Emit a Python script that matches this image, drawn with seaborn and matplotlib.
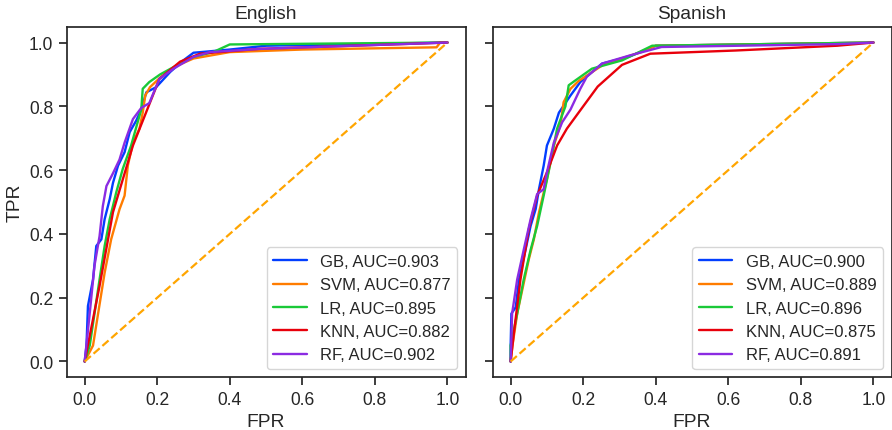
import matplotlib
matplotlib.use('Agg')
import matplotlib.pyplot as plt
import seaborn as sns

# ROC curves
models = ['GB', 'SVM', 'LR', 'KNN', 'RF']

# English
en_fpr = {
    'GB':  [0, 0.005, 0.009, 0.023, 0.032, 0.046, 0.055, 0.069, 0.078, 0.092, 0.11, 0.124, 0.142, 0.156, 0.17, 0.197, 0.236, 0.272, 0.30, 0.40, 0.50, 1.0],
    'SVM': [0, 0.023, 0.037, 0.055, 0.073, 0.096, 0.11, 0.119, 0.133, 0.151, 0.16, 0.167, 0.18, 0.208, 0.25, 0.30, 0.40, 0.60, 0.97, 0.98, 1.0],
    'LR':  [0, 0.014, 0.027, 0.041, 0.055, 0.069, 0.087, 0.105, 0.128, 0.146, 0.156, 0.16, 0.178, 0.208, 0.245, 0.30, 0.354, 0.40, 0.60, 1.0],
    'KNN': [0, 0.041, 0.078, 0.133, 0.206, 0.263, 0.318, 0.48, 1.0],
    'RF':  [0, 0.014, 0.027, 0.041, 0.05, 0.06, 0.078, 0.096, 0.11, 0.133, 0.156, 0.178, 0.206, 0.245, 0.30, 0.345, 0.482, 1.0],
}
en_tpr = {
    'GB':  [0, 0.05, 0.174, 0.257, 0.362, 0.383, 0.446, 0.509, 0.56, 0.614, 0.656, 0.719, 0.755, 0.79, 0.844, 0.86, 0.908, 0.944, 0.968, 0.978, 0.99, 1.0],
    'SVM': [0, 0.05, 0.15, 0.278, 0.383, 0.477, 0.52, 0.614, 0.686, 0.73, 0.78, 0.834, 0.86, 0.89, 0.925, 0.95, 0.97, 0.978, 0.985, 1.0, 1.0],
    'LR':  [0, 0.05, 0.15, 0.257, 0.362, 0.446, 0.53, 0.604, 0.677, 0.75, 0.79, 0.855, 0.876, 0.90, 0.923, 0.955, 0.97, 0.994, 0.996, 1.0],
    'KNN': [0, 0.237, 0.468, 0.677, 0.886, 0.94, 0.965, 0.98, 1.0],
    'RF':  [0, 0.152, 0.30, 0.393, 0.487, 0.55, 0.59, 0.633, 0.686, 0.76, 0.795, 0.81, 0.886, 0.918, 0.955, 0.97, 0.98, 1.0],
}
en_auc = [0.903, 0.877, 0.895, 0.882, 0.902]

# Spanish
es_fpr = {
    'GB':  [0, 0, 0.002, 0.014, 0.023, 0.041, 0.055, 0.069, 0.078, 0.091, 0.10, 0.119, 0.133, 0.165, 0.192, 0.206, 0.252, 0.325, 0.40, 1.0],
    'SVM': [0, 0.005, 0.018, 0.05, 0.064, 0.078, 0.10, 0.119, 0.137, 0.146, 0.165, 0.188, 0.26, 0.36, 0.40, 1.0],
    'LR':  [0, 0, 0.018, 0.036, 0.055, 0.073, 0.091, 0.11, 0.128, 0.151, 0.16, 0.177, 0.224, 0.307, 0.39, 1.0],
    'KNN': [0, 0.009, 0.027, 0.05, 0.073, 0.10, 0.128, 0.155, 0.20, 0.24, 0.307, 0.385, 0.62, 0.9, 1.0],
    'RF':  [0, 0.004, 0.018, 0.036, 0.055, 0.073, 0.091, 0.10, 0.119, 0.142, 0.165, 0.192, 0.21, 0.252, 0.33, 0.416, 0.9, 1.0],
}
es_tpr = {
    'GB':  [0, 0.05, 0.15, 0.17, 0.257, 0.35, 0.425, 0.478, 0.54, 0.614, 0.677, 0.73, 0.78, 0.834, 0.876, 0.89, 0.934, 0.955, 0.99, 1.0],
    'SVM': [0, 0.05, 0.15, 0.32, 0.383, 0.467, 0.572, 0.677, 0.74, 0.813, 0.855, 0.88, 0.934, 0.97, 0.99, 1.0],
    'LR':  [0, 0.05, 0.15, 0.257, 0.35, 0.425, 0.52, 0.624, 0.73, 0.80, 0.866, 0.88, 0.918, 0.944, 0.99, 1.0],
    'KNN': [0, 0.09, 0.257, 0.415, 0.52, 0.593, 0.677, 0.73, 0.80, 0.862, 0.93, 0.965, 0.975, 0.99, 1.0],
    'RF':  [0, 0.15, 0.257, 0.35, 0.446, 0.525, 0.54, 0.593, 0.686, 0.75, 0.79, 0.855, 0.893, 0.934, 0.96, 0.986, 0.995, 1.0],
}
es_auc = [0.900, 0.889, 0.896, 0.875, 0.891]

sns.set_theme(style='ticks', font_scale=1.15)
plt.rcParams['font.family'] = ['Liberation Sans', 'DejaVu Sans']
colors = sns.color_palette('bright', 5)

fig, axes = plt.subplots(1, 2, figsize=(8.92, 4.31), dpi=100, sharey=True)
panels = [('English', en_fpr, en_tpr, en_auc), ('Spanish', es_fpr, es_tpr, es_auc)]

for ax, (title, fpr, tpr, auc) in zip(axes, panels):
    for m, c, a in zip(models, colors, auc):
        sns.lineplot(x=fpr[m], y=tpr[m], ax=ax, color=c, sort=False,
                     estimator=None, linewidth=1.7, label=f'{m}, AUC={a:.3f}')
    ax.plot([0, 1], [0, 1], color='orange', linestyle='--', linewidth=1.6)
    ax.set_title(title)
    ax.set_xlabel('FPR')
    ax.set_xticks([0, 0.2, 0.4, 0.6, 0.8, 1.0])
    ax.set_yticks([0, 0.2, 0.4, 0.6, 0.8, 1.0])
    ax.legend(loc='lower right', fontsize=12)

axes[0].set_ylabel('TPR')
plt.subplots_adjust(left=0.0746, right=0.9995, top=0.936, bottom=0.122, wspace=0.0675)
plt.savefig('out.png', dpi=100)
